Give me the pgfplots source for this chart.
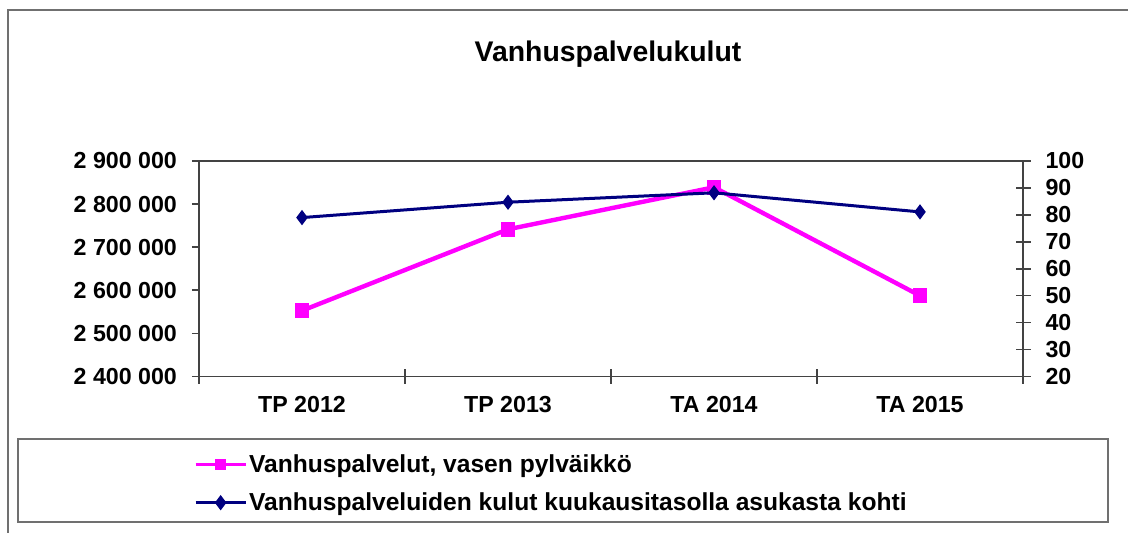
\documentclass[border=0pt]{standalone}
\usepackage{pgfplots}
\pgfplotsset{compat=1.18}
\usepackage{fontspec}
\setmainfont{Liberation Sans}
\definecolor{pinkline}{HTML}{FF00FF}
\definecolor{navyline}{HTML}{000080}
\definecolor{frame}{HTML}{707070}
\begin{document}
\begin{tikzpicture}
\useasboundingbox (0pt,0pt) rectangle (564pt,266.5pt);
% outer frame (only left and top visible)
\draw[frame, line width=1pt] (4pt,0pt) -- (4pt,261.5pt) -- (564pt,261.5pt);
% legend box
\draw[frame, line width=1pt] (9pt,5.5pt) rectangle (554pt,47pt);
% title
\node[font=\bfseries\fontsize{14.2}{17}\selectfont] at (304pt,239.5pt) {Vanhuspalvelukulut};
\coordinate (SW) at (99.5pt,78.25pt);
\begin{axis}[
  at={(SW)}, anchor=south west,
  scale only axis, width=412pt, height=107.75pt,
  xmin=-0.5, xmax=3.5, ymin=2400000, ymax=2900000,
  scaled y ticks=false,
  xtick={0,1,2,3},
  xticklabels={TP 2012,TP 2013,TA 2014,TA 2015},
  major x tick style={draw=none},
  minor xtick={-0.5,0.5,1.5,2.5,3.5},
  xtick align=center,
  minor tick length=7.5pt,
  xtick pos=bottom,
  ytick={2400000,2500000,2600000,2700000,2800000,2900000},
  yticklabels={2 400 000,2 500 000,2 600 000,2 700 000,2 800 000,2 900 000},
  ytick pos=left, ytick align=outside,
  major tick length=3.5pt,
  tick style={frame!60!black, line width=0.8pt},
  axis line style={frame!60!black, line width=0.8pt},
  ticklabel style={font=\bfseries\fontsize{11.6}{13}\selectfont},
  y tick label style={xshift=-4pt},
  x tick label style={yshift=-4.5pt},
  clip=false,
]
\addplot[color=pinkline, line width=2.2pt, mark=square*, mark size=2.6pt, mark options={solid}]
  coordinates {(0,2552700)(1,2741500)(2,2839000)(3,2587500)};
\end{axis}
\begin{axis}[
  at={(SW)}, anchor=south west,
  scale only axis, width=412pt, height=107.75pt,
  xmin=-0.5, xmax=3.5, ymin=20, ymax=100,
  hide x axis,
  axis y line*=right,
  ytick={20,30,...,100},
  ytick align=center,
  major tick length=7.5pt,
  tick style={frame!60!black, line width=0.8pt},
  axis line style={frame!60!black, line width=0.8pt},
  ticklabel style={font=\bfseries\fontsize{11.6}{13}\selectfont},
  y tick label style={xshift=4pt},
  /pgf/number format/assume math mode=true,
  clip=false,
  legend cell align=left,
  legend style={draw=none, fill=none, at={(-0.014,-0.333)}, anchor=north west,
    font=\bfseries\fontsize{12.3}{14}\selectfont, row sep=7pt,
    nodes={inner sep=0.8pt}},
  legend image code/.code={%
    \draw[mark repeat=2,mark phase=2,#1] plot coordinates {(0pt,0pt)(12.5pt,0pt)(25pt,0pt)};},
]
\addlegendimage{color=pinkline, line width=1.8pt, mark=square*, mark size=1.8pt}
\addlegendentry{Vanhuspalvelut, vasen pylväikkö}
\addplot[color=navyline, line width=1.5pt, mark=diamond*, mark size=2.6pt]
  coordinates {(0,79)(1,84.7)(2,88.2)(3,81.1)};
\addlegendentry{Vanhuspalveluiden kulut kuukausitasolla asukasta kohti}
\end{axis}
\end{tikzpicture}
\end{document}
